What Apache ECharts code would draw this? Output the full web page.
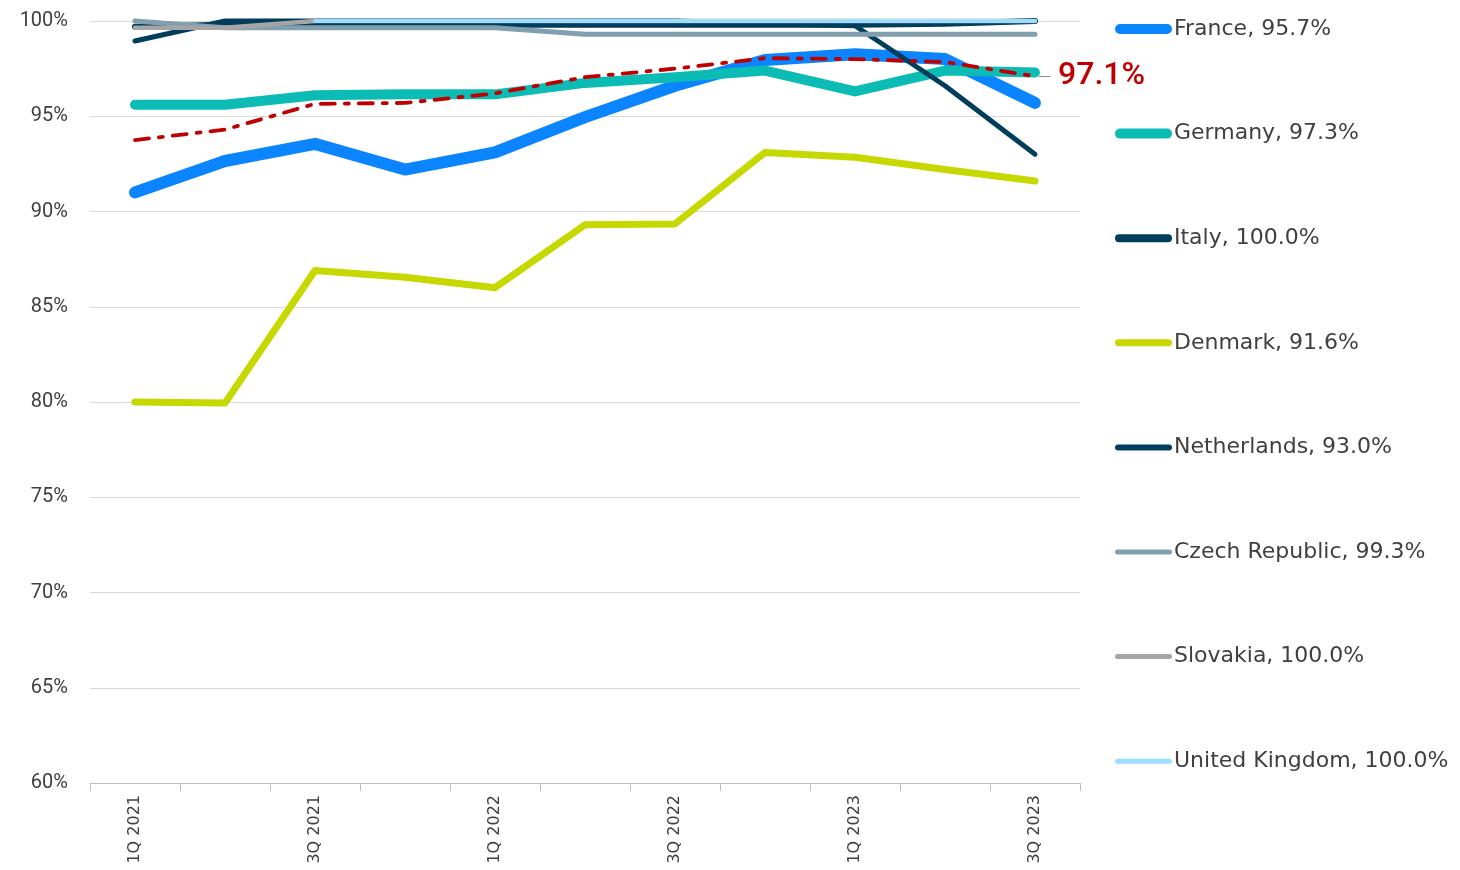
<!DOCTYPE html>
<html>
<head>
<meta charset="utf-8">
<script src="https://cdn.jsdelivr.net/npm/echarts@6/dist/echarts.min.js"></script>
<style>
html,body{margin:0;padding:0;background:#fff;}
#chart{width:1460px;height:870px;}
</style>
</head>
<body>
<div id="chart"></div>
<script>
// ---- data ----
var categories = ['1Q 2021','2Q 2021','3Q 2021','4Q 2021','1Q 2022','2Q 2022','3Q 2022','4Q 2022','1Q 2023','2Q 2023','3Q 2023'];
var france      = [91.0, 92.65, 93.55, 92.2, 93.1, 94.95, 96.6, 97.95, 98.25, 98.0, 95.7];
var germany     = [95.6, 95.6, 96.1, 96.15, 96.15, 96.75, 97.05, 97.4, 96.3, 97.4, 97.3];
var italy       = [99.7, 99.8, 99.8, 99.8, 99.8, 99.8, 99.8, 99.8, 99.8, 99.85, 100.0];
var denmark     = [80.0, 79.95, 86.9, 86.55, 86.0, 89.3, 89.35, 93.1, 92.85, 92.2, 91.6];
var netherlands = [98.95, 100.0, 100.0, 100.0, 100.0, 100.0, 100.0, 99.85, 99.75, 96.6, 93.0];
var czech       = [100.0, 99.65, 99.65, 99.65, 99.65, 99.3, 99.3, 99.3, 99.3, 99.3, 99.3];
var slovakia    = [99.65, 99.65, 100.0, 100.0, 100.0, 100.0, 100.0, 100.0, 100.0, 100.0, 100.0];
var uk          = [null, null, 100.0, 100.0, 100.0, 100.0, 100.0, 100.0, 100.0, 100.0, 100.0];
var average     = [93.75, 94.3, 95.65, 95.7, 96.2, 97.05, 97.5, 98.05, 98.0, 97.85, 97.1];
var yTicks = [60, 65, 70, 75, 80, 85, 90, 95, 100];

var countries = [
  {name:'France', data:france, color:'#0a84ff', width:12, icon:10},
  {name:'Germany', data:germany, color:'#0bbcb5', width:10, icon:10},
  {name:'Italy', data:italy, color:'#003d5c', width:6, icon:8},
  {name:'Denmark', data:denmark, color:'#c6d800', width:7, icon:7},
  {name:'Netherlands', data:netherlands, color:'#003d5c', width:5, icon:6},
  {name:'Czech Republic', data:czech, color:'#809faf', width:5, icon:5},
  {name:'Slovakia', data:slovakia, color:'#a5a5a5', width:4.5, icon:5},
  {name:'United Kingdom', data:uk, color:'#9cdcfe', width:4, icon:5}
];

function lastVal(arr){ for (var i=arr.length-1;i>=0;i--) if (arr[i]!=null) return arr[i]; return null; }

var font = 'Roboto, "Noto Sans", sans-serif';
var legendFont = '"DejaVu Sans", sans-serif';
var series = countries.map(function(c){
  return {
    name: c.name + ', ' + lastVal(c.data).toFixed(1) + '%',
    type: 'line',
    data: c.data,
    symbol: 'none',
    clip: false,
    animation: false,
    itemStyle: {color: c.color},
    lineStyle: {color: c.color, width: c.width, cap: 'round', join: 'round'}
  };
});

series.push({
  name: 'Average',
  type: 'line',
  data: average,
  symbol: 'none',
  z: 5,
  animation: false,
  lineStyle: {color: '#c00000', width: 3.8, type: [14, 10, 4, 10], cap: 'round'},
  endLabel: {
    show: true,
    distance: 3,
    formatter: function(p){ return '{l|\u2014}{v|' + p.value.toFixed(1) + '%}'; },
    rich: {
      l: {color: '#7f7f7f', fontSize: 13, fontFamily: 'DejaVu Sans', padding: [0, 7, 0, 0]},
      v: {color: '#c00000', fontSize: 32, fontFamily: font, fontWeight: 500}
    }
  }
});

var legendW = 57;
function pill(h){
  var r = h / 2;
  return 'path://M' + r + ',0 L' + (legendW - r) + ',0 A' + r + ',' + r + ' 0 0 1 ' + (legendW - r) + ',' + h +
         ' L' + r + ',' + h + ' A' + r + ',' + r + ' 0 0 1 ' + r + ',0 Z';
}

var legends = countries.map(function(c, i){
  return {
    orient: 'vertical',
    left: 1115,
    top: 18 + i * 104.6,
    padding: 0,
    itemWidth: legendW,
    itemHeight: c.icon,
    symbolKeepAspect: false,
    selectedMode: false,
    itemStyle: {borderWidth: 0},
    data: [{name: series[i].name, icon: pill(c.icon)}],
    textStyle: {color: '#404040', fontSize: 22, fontFamily: legendFont, padding: [0, 0, 0, -3]}
  };
});

var chart = echarts.init(document.getElementById('chart'));
chart.setOption({
  backgroundColor: '#ffffff',
  animation: false,
  grid: {left: 90, right: 380, top: 21, bottom: 87, containLabel: false},
  legend: legends,
  xAxis: {
    type: 'category',
    data: categories,
    boundaryGap: true,
    axisLine: {lineStyle: {color: '#bfbfbf', width: 1}},
    axisTick: {show: true, length: 8, interval: 0, lineStyle: {color: '#bfbfbf'}},
    axisLabel: {interval: 1, rotate: 90, margin: 12, color: '#404040', fontSize: 16, fontFamily: legendFont}
  },
  yAxis: {
    type: 'value',
    min: yTicks[0],
    max: yTicks[yTicks.length - 1],
    interval: 5,
    axisLine: {show: false},
    axisTick: {show: false},
    splitLine: {lineStyle: {color: '#d9d9d9', width: 1}},
    axisLabel: {formatter: '{value}%', color: '#404040', fontSize: 20, fontFamily: font, margin: 22}
  },
  series: series
});
</script>
</body>
</html>
